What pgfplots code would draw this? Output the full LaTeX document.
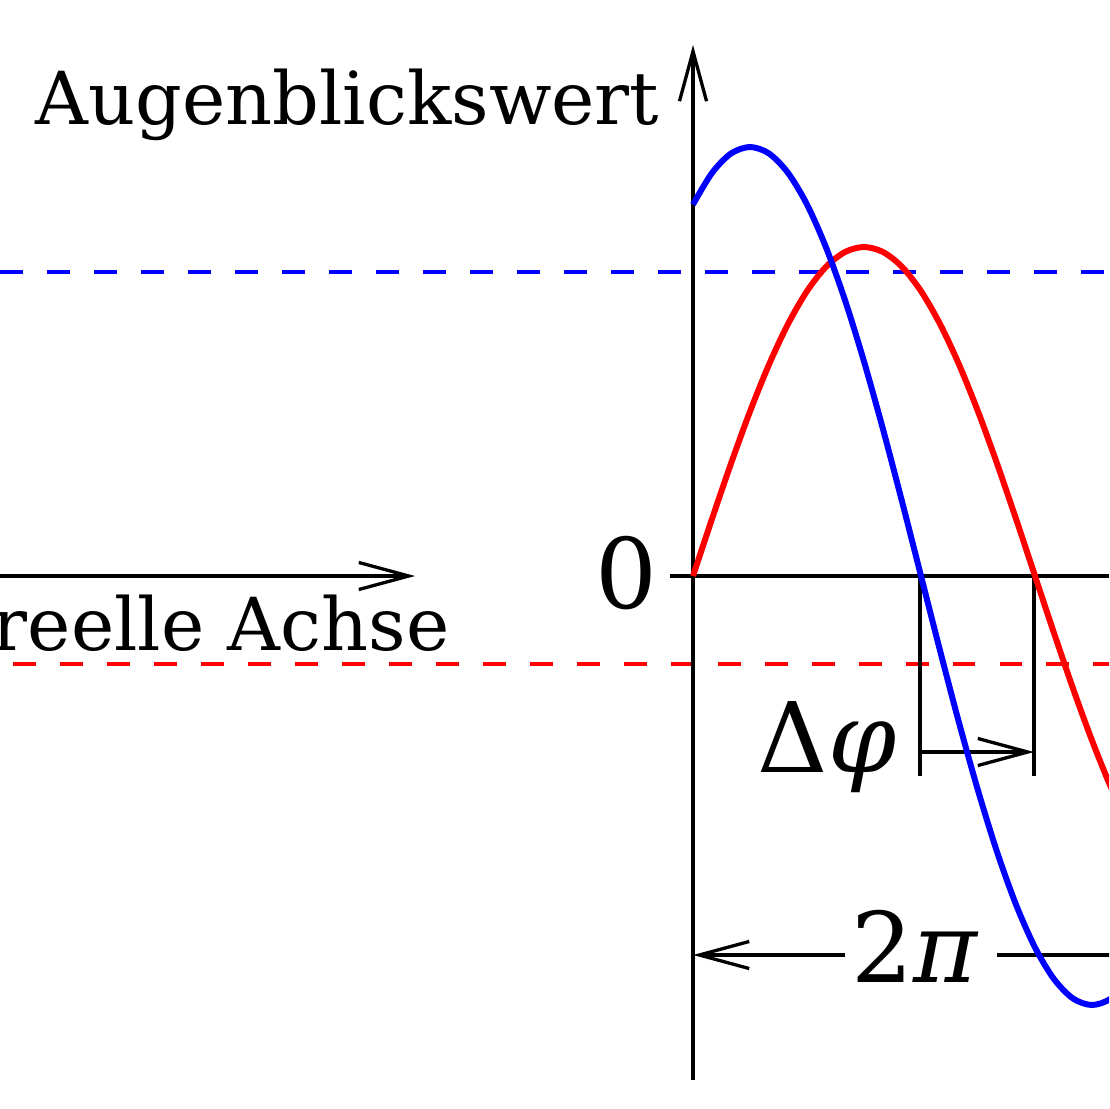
\documentclass[border=0pt]{standalone}
\usepackage{pgfplots}
\usepackage{pgfplotstable}
\pgfplotsset{compat=1.18}
\usepackage{fontspec}
\setmainfont{DejaVu Serif}
\usetikzlibrary{arrows.meta}

\pgfplotstableread{
t v
0 0
10 57.1
20 112.5
30 164.5
40 211.5
50 252.0
60 284.9
70 309.2
80 324.0
90 329.0
100 324.0
110 309.2
120 284.9
130 252.0
140 211.5
150 164.5
160 112.5
170 57.1
180 0
190 -57.1
200 -112.5
210 -164.5
220 -211.5
230 -252.0
}\redtab

\pgfplotstableread{
t v
0 371.5
10 403.1
20 422.5
30 429.0
40 422.5
50 403.1
60 371.5
70 328.6
80 275.8
90 214.5
100 146.7
110 74.5
120 0
130 -74.5
140 -146.7
150 -214.5
160 -275.8
170 -328.6
180 -371.5
190 -403.1
200 -422.5
210 -429.0
220 -422.5
230 -403.1
}\bluetab

\begin{document}
\begin{tikzpicture}[
  barb/.style={-{Straight Barb[length=14.2pt,width=7.7pt]}},
  ax/.style={black, line width=0.94pt},
]
\begin{axis}[hide axis, scale only axis, width=11.09cm, height=11.09cm,
  xmin=0, xmax=1109, ymin=0, ymax=1109, y dir=reverse, clip=true]
\coordinate (A) at (axis cs:0,0);
\coordinate (B) at (axis cs:1109,1109);
% dashed lines
\draw[blue, line width=1pt, dash pattern=on 6.54pt off 6.83pt] (axis cs:0,272) -- (axis cs:1109,272);
\draw[red, line width=1pt, dash pattern=on 6.54pt off 6.83pt, dash phase=9.76pt] (axis cs:0,664) -- (axis cs:1109,664);
% axes
\draw[ax, barb] (axis cs:693,1080) -- (axis cs:693,45);
\draw[ax] (axis cs:670,576) -- (axis cs:1109,576);
\draw[ax, barb] (axis cs:-10,576) -- (axis cs:415,576);
% delta phi markers
\draw[ax] (axis cs:920,576) -- (axis cs:920,776);
\draw[ax] (axis cs:1034,576) -- (axis cs:1034,776);
\draw[ax, barb] (axis cs:920,752) -- (axis cs:1034,752);
% 2 pi
\draw[ax, barb] (axis cs:845,955) -- (axis cs:693,955);
\draw[ax] (axis cs:997,955) -- (axis cs:1120,955);
% curves
\addplot[red, line width=1.7pt, smooth, no marks] table[x expr=693+1.9*\thisrow{t}, y expr=576-\thisrow{v}] {\redtab};
\addplot[blue, line width=1.7pt, smooth, no marks] table[x expr=693+1.9*\thisrow{t}, y expr=576-\thisrow{v}] {\bluetab};
% labels
\node[anchor=base east, inner sep=0, font=\fontsize{20.8}{24}\selectfont] at (axis cs:660,125) {Augenblickswert};
\node[anchor=base, inner sep=0, font=\fontsize{27.7}{32}\selectfont] at (axis cs:626,608) {0};
\node[anchor=base east, inner sep=0, font=\fontsize{20.8}{24}\selectfont] at (axis cs:450,650) {reelle Achse};
\node[anchor=base east, inner sep=0, font=\fontsize{27.7}{32}\selectfont] at (axis cs:897,772) {Δ\textit{φ}};
\node[anchor=base west, inner sep=0, font=\fontsize{27.7}{32}\selectfont] at (axis cs:851,982) {2\textit{π}};
\end{axis}
\pgfresetboundingbox
\useasboundingbox (A) rectangle (B);
\end{tikzpicture}
\end{document}
